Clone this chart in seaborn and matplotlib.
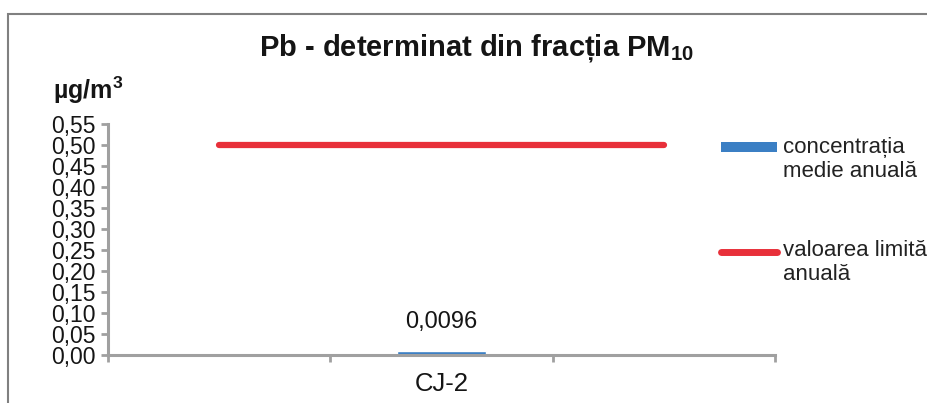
import numpy as np
import pandas as pd
import matplotlib
matplotlib.use("Agg")
import matplotlib.pyplot as plt
from matplotlib.patches import Patch, Rectangle
from matplotlib.lines import Line2D
from matplotlib.legend_handler import HandlerPatch, HandlerLine2D
from matplotlib.transforms import Affine2D
from matplotlib.ticker import FixedLocator, FuncFormatter
import seaborn as sns

# Stations on the category axis (only CJ-2 has a measurement)
statii = ["st_a", "CJ-2", "st_b"]
etichete_statii = ["", "CJ-2", ""]
concentratie = [np.nan, 0.0096, np.nan]   # µg/m3, annual mean
valoare_limita = [0.5, 0.5, 0.5]          # µg/m3, annual limit value
y_ticks = [0.00, 0.05, 0.10, 0.15, 0.20, 0.25, 0.30, 0.35, 0.40, 0.45, 0.50, 0.55]

sns.set_theme(style="white")
plt.rcParams["font.family"] = ["Liberation Sans", "DejaVu Sans"]
plt.rcParams["mathtext.fontset"] = "custom"
plt.rcParams["mathtext.rm"] = "Liberation Sans"
plt.rcParams["mathtext.bf"] = "Liberation Sans:bold"

BLUE = "#3b7fc4"
RED = "#e8303a"
AXIS_GREY = "#a0a0a0"
TXT = "#151515"
LEG_FS = 16


class _RaisedMixin:
    """Shift legend handles up so they sit beside the first line of a two-line label."""
    shift = 0.55 * LEG_FS

    def create_artists(self, legend, orig_handle, xdescent, ydescent,
                       width, height, fontsize, trans):
        arts = super().create_artists(legend, orig_handle, xdescent, ydescent,
                                      width, height, fontsize, trans)
        for a in arts:
            a.set_transform(Affine2D().translate(0, self.shift) + trans)
        return arts


class RaisedPatch(_RaisedMixin, HandlerPatch):
    pass


class RaisedLine(_RaisedMixin, HandlerLine2D):
    pass


df = pd.DataFrame({"statie": statii, "concentratie": concentratie})

fig = plt.figure(figsize=(9.28, 4.03), dpi=100)
ax = fig.add_axes([108 / 928, 1 - 355 / 403, (775 - 108) / 928, (355 - 124) / 403])

sns.barplot(data=df.dropna(), x="statie", y="concentratie", order=statii,
            color=BLUE, width=0.4, saturation=1, ax=ax)
ax.plot(np.arange(len(statii)), valoare_limita, color=RED, lw=4.5,
        solid_capstyle="round", zorder=3)

# value label on the bar
for i, v in enumerate(concentratie):
    if not np.isnan(v):
        ax.annotate(f"{v:.4f}".replace(".", ","), (i, v), xytext=(0, 13),
                    textcoords="offset points", ha="center", va="bottom",
                    fontsize=17, color=TXT)

ax.set_xlim(-0.5, len(statii) - 0.5)
ax.set_ylim(0, 0.55)
ax.set_xlabel("")
ax.set_ylabel("")

# y axis
ax.yaxis.set_major_locator(FixedLocator(y_ticks))
ax.yaxis.set_major_formatter(FuncFormatter(lambda v, p: f"{v:.2f}".replace(".", ",")))
ax.tick_params(axis="y", which="major", direction="out", length=5, width=2,
               color=AXIS_GREY, labelsize=16.5, pad=4, left=True, labelcolor=TXT)

# x axis: ticks at category boundaries, names in the middle
ax.xaxis.set_major_locator(FixedLocator(np.arange(len(statii) + 1) - 0.5))
ax.xaxis.set_major_formatter(FuncFormatter(lambda v, p: ""))
ax.xaxis.set_minor_locator(FixedLocator(np.arange(len(statii))))
ax.xaxis.set_minor_formatter(FuncFormatter(lambda v, p: etichete_statii[int(round(v))]))
ax.tick_params(axis="x", which="major", direction="out", length=5, width=2,
               color=AXIS_GREY, bottom=True)
ax.tick_params(axis="x", which="minor", length=0, labelsize=18.5, pad=12,
               labelcolor=TXT)

sns.despine(ax=ax)
for s in ["left", "bottom"]:
    ax.spines[s].set_color(AXIS_GREY)
    ax.spines[s].set_linewidth(2.2)
ax.grid(False)

# titles
fig.text(477 / 928, 1 - 48 / 403, r"Pb - determinat din fracția PM$_{\mathbf{10}}$",
         ha="center", va="center", fontsize=21, fontweight="bold", color=TXT)
fig.text(53 / 928, 1 - 90 / 403, r"µg/m$^{\mathbf{3}}$", ha="left", va="center",
         fontsize=18, fontweight="bold", color=TXT)

# legend
handles = [Patch(facecolor=BLUE, edgecolor="none"),
           Line2D([0], [0], color=RED, lw=5, solid_capstyle="round")]
labels = ["concentrația\nmedie anuală", "valoarea limită\nanuală"]
fig.legend(handles, labels, loc="upper left", bbox_to_anchor=(721 / 928, 1 - 137 / 403),
           frameon=False, fontsize=LEG_FS, labelspacing=2.6, handlelength=2.5,
           handleheight=0.3, handletextpad=0.3, borderaxespad=0, borderpad=0,
           labelcolor="#222222",
           handler_map={Patch: RaisedPatch(), Line2D: RaisedLine()})

# outer frame
fig.patches.append(Rectangle((8 / 928, -0.1), 1.0, 1.1 - 14 / 403,
                             transform=fig.transFigure, fill=False,
                             edgecolor="#808080", lw=1.5))

fig.savefig("out.png", dpi=100)
